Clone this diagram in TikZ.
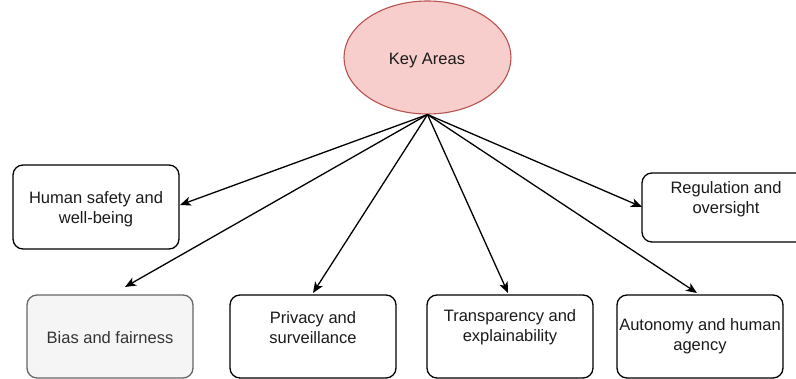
\documentclass[tikz,border=0pt]{standalone}
\usepackage{fontspec}
\setmainfont{Liberation Sans}
\usetikzlibrary{shapes.geometric,arrows.meta,calc}
\definecolor{hubfill}{HTML}{F8CECC}
\definecolor{hubline}{HTML}{B85450}
\definecolor{mutefill}{HTML}{F5F5F5}
\definecolor{muteline}{HTML}{666666}
\definecolor{mutetext}{HTML}{333333}
\definecolor{bodytext}{HTML}{1A1A1A}
\begin{document}
\begin{tikzpicture}[x=1pt,y=-1pt,
  every node/.style={font=\fontsize{16.5}{20}\selectfont, text=bodytext},
  area/.style={draw=black, line width=1.3pt, rounded corners=10pt,
    minimum width=166pt, inner sep=0pt, fill=white},
  txt/.style={align=center, inner sep=0pt},
  link/.style={draw=black, line width=1.3pt,
    -{Stealth[length=11pt,width=9pt,inset=3pt]}}]
\useasboundingbox (0,0) rectangle (796,379);
\fill[white] (0,0) rectangle (796,379);

% central topic
\node[ellipse, draw=hubline, fill=hubfill, line width=1.1pt,
  minimum width=167pt, minimum height=113pt, inner sep=0pt] (ka) at (427.5,57.5) {};
\node[txt] (kat) at (427,61) {Key Areas};

% surrounding areas
\node[area, minimum height=84pt] (hs) at (96,207) {};
\node[txt] (hst) at (96,209) {Human safety and\\well-being};

\node[area, minimum height=83pt, draw=muteline, fill=mutefill] (bias) at (110,336.5) {};
\node[txt, text=mutetext] (biast) at (110,338) {Bias and fairness};

\node[area, minimum height=83pt] (priv) at (313,336.5) {};
\node[txt] (privt) at (313,328) {Privacy and\\surveillance};

\node[area, minimum height=83pt] (trans) at (510,336.5) {};
\node[txt] (transt) at (510,327.5) {Transparency and\\explainability};

\node[area, minimum height=83pt] (auto) at (700,336.5) {};
\node[txt] (autot) at (700,336) {Autonomy and human\\agency};

\node[area, minimum height=69pt] (reg) at (725,207.5) {};
\node[txt] (regt) at (726,199) {Regulation and\\oversight};

% arrow tips
\coordinate (hsEnd) at (180,205);
\coordinate (biasEnd) at (125,287);
\coordinate (privEnd) at (313,293);
\coordinate (transEnd) at (508,293);
\coordinate (autoEnd) at (697,293);
\coordinate (regEnd) at (642,207);

\foreach \t in {hsEnd,biasEnd,privEnd,transEnd,autoEnd,regEnd}
  \draw[link] (ka.south) -- (\t);
\end{tikzpicture}
\end{document}
